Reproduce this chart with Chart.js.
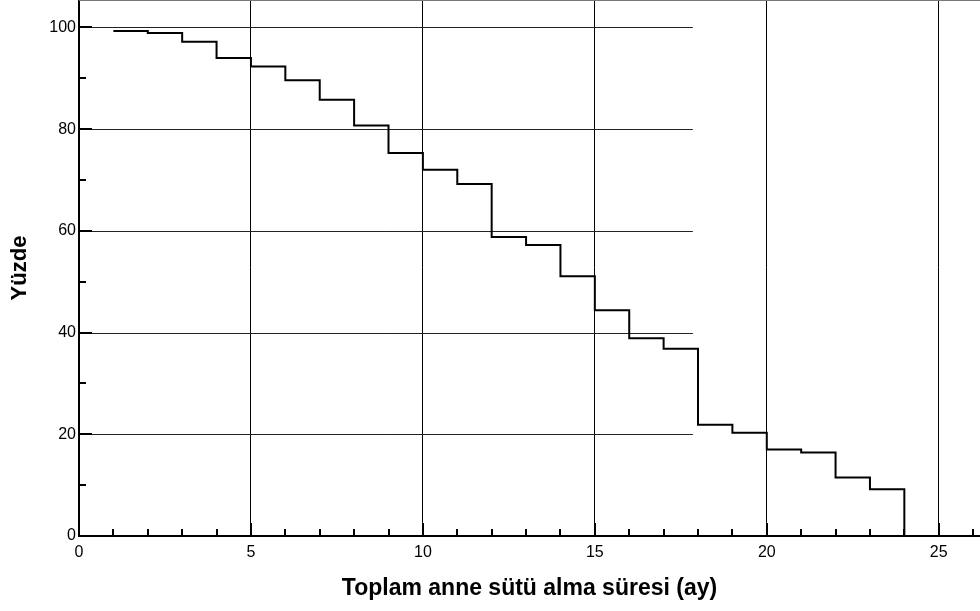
<!DOCTYPE html>
<html>
<head>
<meta charset="utf-8">
<script src="https://cdn.jsdelivr.net/npm/chart.js@4/dist/chart.umd.min.js"></script>
<style>
  html, body { margin: 0; padding: 0; background: #fff; }
  #wrap { width: 980px; height: 611px; }
</style>
</head>
<body>
<div id="wrap"><canvas id="c" width="980" height="611"></canvas></div>
<script>
// Data (Kaplan–Meier style step curve)
const months  = [1, 2, 3, 4, 5, 6, 7, 8, 9, 10, 11, 12, 13, 14, 15, 16, 17, 18, 19, 20, 21, 22, 23, 24];
const percent = [99.3, 98.9, 97.2, 94.0, 92.3, 89.6, 85.8, 80.7, 75.3, 72.0, 69.2, 58.8, 57.2, 51.1, 44.4, 38.9, 36.8, 21.9, 20.3, 17.0, 16.4, 11.5, 9.2, 0];

const xTickValues = [0, 5, 10, 15, 20, 25];
const yTickValues = [0, 20, 40, 60, 80, 100];
const xMinorStep = 1;
const yMinorStep = 10;
const hGridEnd = 17.85;   // horizontal grid lines stop here in the original
const xTitle = 'Toplam anne sütü alma süresi (ay)';
const yTitle = 'Yüzde';

const FONT = "'Liberation Sans', Arial, Helvetica, sans-serif";

function zeroPad(scale) {
  scale.paddingTop = 0; scale.paddingBottom = 0;
  scale.paddingLeft = 0; scale.paddingRight = 0;
}

const decorations = {
  id: 'decorations',
  beforeDatasetsDraw(chart) {
    const {ctx, chartArea, scales: {x, y}} = chart;
    ctx.save();
    // horizontal grid lines (partial width)
    ctx.strokeStyle = '#222';
    ctx.lineWidth = 1;
    const xe = x.getPixelForValue(hGridEnd);
    yTickValues.forEach(v => {
      if (v === 0) return;
      const py = Math.round(y.getPixelForValue(v)) + 0.5;
      ctx.beginPath();
      ctx.moveTo(chartArea.left, py);
      ctx.lineTo(xe, py);
      ctx.stroke();
    });
    // top frame line
    ctx.strokeStyle = '#777';
    ctx.lineWidth = 2;
    ctx.beginPath();
    ctx.moveTo(chartArea.left, chartArea.top);
    ctx.lineTo(chartArea.right, chartArea.top);
    ctx.stroke();
    ctx.restore();
  },
  afterDraw(chart) {
    const {ctx, chartArea, scales: {x, y}} = chart;
    ctx.save();
    ctx.strokeStyle = '#000';
    ctx.lineWidth = 2;
    // x ticks pointing inward
    for (let v = x.min; v <= x.max + 1e-9; v += xMinorStep) {
      const vv = Math.round(v);
      const px = Math.round(x.getPixelForValue(vv));
      const len = (vv % 5 === 0) ? 13 : 7;
      ctx.beginPath();
      ctx.moveTo(px, chartArea.bottom);
      ctx.lineTo(px, chartArea.bottom - len);
      ctx.stroke();
    }
    // y ticks pointing inward
    for (let v = 0; v <= 100 + 1e-9; v += yMinorStep) {
      const py = Math.round(y.getPixelForValue(v));
      const len = (v % 20 === 0) ? 13 : 7;
      ctx.beginPath();
      ctx.moveTo(chartArea.left, py);
      ctx.lineTo(chartArea.left + len, py);
      ctx.stroke();
    }
    ctx.restore();
  }
};

new Chart(document.getElementById('c'), {
  type: 'line',
  data: {
    datasets: [{
      data: months.map((m, i) => ({x: m, y: percent[i]})),
      stepped: 'before',
      borderColor: '#000',
      borderWidth: 2,
      pointRadius: 0,
      fill: false,
      tension: 0
    }]
  },
  options: {
    responsive: false,
    animation: false,
    devicePixelRatio: 1,
    layout: { padding: 0 },
    plugins: { legend: { display: false }, tooltip: { enabled: false }, title: { display: false } },
    scales: {
      x: {
        type: 'linear',
        min: 0,
        max: 26.2,
        afterBuildTicks(scale) { scale.ticks = xTickValues.map(v => ({value: v})); },
        afterFit(scale) { scale.height = 75; zeroPad(scale); },
        grid: {
          display: true,
          color: '#000',
          lineWidth: 1,
          drawTicks: false
        },
        border: { display: true, color: '#000', width: 2 },
        ticks: {
          color: '#000',
          font: { family: FONT, size: 16 },
          padding: 7,
          maxRotation: 0,
          autoSkip: false
        },
        title: {
          display: true,
          text: xTitle,
          color: '#000',
          font: { family: FONT, size: 23, weight: 'bold' },
          padding: { top: 0, bottom: 9 }
        }
      },
      y: {
        type: 'linear',
        min: 0,
        max: 105.4,
        afterBuildTicks(scale) { scale.ticks = yTickValues.map(v => ({value: v})); },
        afterFit(scale) { scale.width = 79; zeroPad(scale); },
        grid: { display: false, drawTicks: false },
        border: { display: true, color: '#000', width: 2 },
        ticks: {
          color: '#000',
          font: { family: FONT, size: 16 },
          padding: 3,
          autoSkip: false
        },
        title: {
          display: true,
          text: yTitle,
          color: '#000',
          font: { family: FONT, size: 22, weight: 'bold' },
          padding: { top: 7, bottom: 0 }
        }
      }
    }
  },
  plugins: [decorations]
});
</script>
</body>
</html>
